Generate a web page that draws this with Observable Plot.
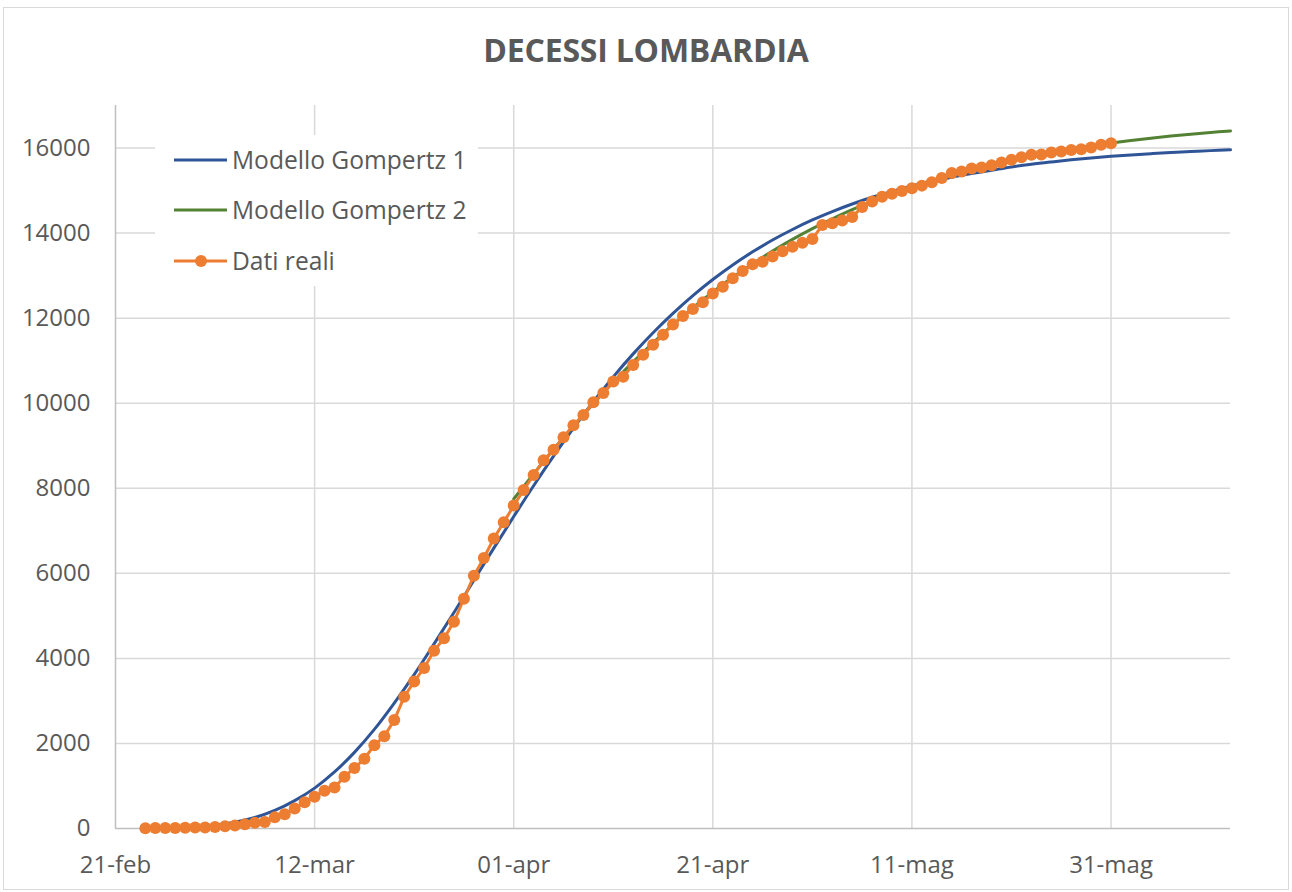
<!DOCTYPE html>
<html>
<head>
<meta charset="utf-8">
<script src="https://cdn.jsdelivr.net/npm/d3@7"></script>
<script src="https://cdn.jsdelivr.net/npm/@observablehq/plot@0.6"></script>
<style>
  body { margin: 0; background: #fff; }
  #wrap { position: relative; width: 1292px; height: 892px; overflow: hidden; font-family: "Open Sans", sans-serif; color: #595959; background: #fff; }
  #frame { position: absolute; left: 3px; top: 7px; width: 1286px; height: 883px; border: 1px solid #D9D9D9; box-sizing: border-box; }
  #title { position: absolute; left: 3px; width: 1286px; top: 34px; text-align: center; font-weight: bold; font-size: 32px; line-height: 1; letter-spacing: -0.2px; }
  #chart { position: absolute; left: 0; top: 0; }
  #legend { position: absolute; left: 155px; top: 135px; }
</style>
</head>
<body>
<div id="wrap">
  <div id="frame"></div>
  <div id="chart"></div>
  <div id="title">DECESSI LOMBARDIA</div>
  <div id="legend"></div>
</div>
<script>
// ---------- DATA ----------
const chartTitle = "DECESSI LOMBARDIA";
const seriesNames = ["Modello Gompertz 1", "Modello Gompertz 2", "Dati reali"];

// x-axis ticks and their labels
const tickDateStrings = ["2020-02-21", "2020-03-12", "2020-04-01", "2020-04-21", "2020-05-11", "2020-05-31"];
const tickLabels = ["21-feb", "12-mar", "01-apr", "21-apr", "11-mag", "31-mag"];
const yTicks = [0, 2000, 4000, 6000, 8000, 10000, 12000, 14000, 16000];
const xDomainStrings = ["2020-02-21", "2020-06-12"];
const yDomain = [0, 17000];

// Dati reali: daily cumulative deaths from 24-feb to 31-mag
const realStart = "2020-02-24";
const datiReali = [
  6, 9, 9, 14, 17, 23,
  24, 38, 55, 73, 98, 135, 154, 267, 333, 468,
  617, 744, 890, 966, 1218, 1420, 1640, 1959, 2168, 2549,
  3095, 3456, 3776, 4178, 4474, 4861, 5402, 5944, 6360, 6818, 7199,
  7593, 7960, 8311, 8656, 8905, 9202, 9484, 9722, 10022, 10238,
  10511, 10621, 10901, 11142, 11377, 11608, 11851, 12050, 12213, 12376,
  12579, 12740, 12940, 13106, 13269, 13325, 13449, 13575, 13679, 13772,
  13860, 14189, 14231, 14294, 14380, 14611, 14745, 14853, 14924, 14989,
  15054, 15116, 15196, 15296, 15411, 15449, 15519, 15543, 15597, 15662,
  15727, 15784, 15840, 15849, 15896, 15919, 15953, 15974, 16012, 16079, 16112
];

// Modello Gompertz 1: values read every 2 days from 25-feb to 12-giu
const g1Start = "2020-02-25";
const gompertz1 = [
  6, 16, 37, 77, 147,
  258, 424, 655, 950, 1330,
  1790, 2330, 2950, 3620, 4340,
  5080, 5838, 6592, 7335, 8059,
  8754, 9415, 10038, 10620, 11160,
  11657, 12113, 12530, 12909, 13251,
  13559, 13837, 14085, 14309, 14506,
  14684, 14842, 14981, 15106, 15217,
  15315, 15400, 15477, 15555, 15618,
  15672, 15722, 15764, 15804, 15838,
  15868, 15895, 15918, 15939, 15957
];

// Modello Gompertz 2: values read every 2 days from 01-apr to 12-giu
const g2Start = "2020-04-01";
const gompertz2 = [
  7748, 8338, 8911, 9462, 9990,
  10494, 10971, 11422, 11846, 12243,
  12614, 12960, 13280, 13576, 13851,
  14104, 14335, 14549, 14745, 14926,
  15090, 15241, 15378, 15504, 15618,
  15723, 15817, 15904, 15983, 16055,
  16118, 16179, 16232, 16281, 16325,
  16365, 16402
];

const colors = ["#2F5597", "#548235", "#ED7D31"];

// ---------- BUILD TABLES ----------
const parse = d3.utcParse("%Y-%m-%d");
const tickDates = tickDateStrings.map(parse);
const xDomain = xDomainStrings.map(parse);
const realData = datiReali.map((v, i) => ({date: d3.utcDay.offset(parse(realStart), i), value: v}));
const g1Data = gompertz1.map((v, i) => ({date: d3.utcDay.offset(parse(g1Start), 2 * i), value: v}));
const g2Data = gompertz2.map((v, i) => ({date: d3.utcDay.offset(parse(g2Start), 2 * i), value: v}));

const fmtTick = d => {
  const k = tickDates.findIndex(t => +t === +d);
  return k >= 0 ? tickLabels[k] : "";
};

const chart = Plot.plot({
  width: 1292,
  height: 892,
  marginLeft: 115,
  marginRight: 62,
  marginTop: 105,
  marginBottom: 64,
  x: {type: "utc", domain: xDomain, label: null},
  y: {domain: yDomain, label: null},
  style: {fontFamily: "'Open Sans', sans-serif", color: "#595959", background: "transparent", overflow: "visible"},
  marks: [
    Plot.ruleX(tickDates.slice(1), {stroke: "#D9D9D9", strokeWidth: 1.5}),
    Plot.ruleY(yTicks.slice(1), {stroke: "#D9D9D9", strokeWidth: 1.5}),
    Plot.ruleX([tickDates[0]], {stroke: "#BFBFBF", strokeWidth: 1.5}),
    Plot.ruleY([0], {stroke: "#BFBFBF", strokeWidth: 1.5}),
    Plot.axisY(yTicks, {label: null, tickSize: 0, tickPadding: 25, fontSize: 24, fill: "#595959", tickFormat: d => String(d)}),
    Plot.axisX(tickDates, {label: null, tickSize: 0, tickPadding: 27, fontSize: 24, fill: "#595959", tickFormat: fmtTick}),
    Plot.line(g1Data, {x: "date", y: "value", stroke: colors[0], strokeWidth: 3, curve: "catmull-rom"}),
    Plot.line(g2Data, {x: "date", y: "value", stroke: colors[1], strokeWidth: 3, curve: "catmull-rom"}),
    Plot.line(realData, {x: "date", y: "value", stroke: colors[2], strokeWidth: 3}),
    Plot.dot(realData, {x: "date", y: "value", r: 6, fill: colors[2], stroke: "none"})
  ]
});
document.getElementById("chart").appendChild(chart);
document.getElementById("title").textContent = chartTitle;

// ---------- LEGEND ----------
const ns = "http://www.w3.org/2000/svg";
const lg = document.createElementNS(ns, "svg");
lg.setAttribute("width", 323);
lg.setAttribute("height", 151);
lg.innerHTML = `<rect x="0" y="0" width="323" height="151" fill="#fff"/>`;
const rowY = [25, 75, 126];
seriesNames.forEach((name, i) => {
  const g = document.createElementNS(ns, "g");
  g.innerHTML =
    `<line x1="19" x2="72" y1="${rowY[i]}" y2="${rowY[i]}" stroke="${colors[i]}" stroke-width="3"/>` +
    (i === 2 ? `<circle cx="46" cy="${rowY[i]}" r="6" fill="${colors[i]}"/>` : "") +
    `<text x="77" y="${rowY[i]}" dy="0.35em" font-family="'Open Sans', sans-serif" font-size="24.6" fill="#595959"></text>`;
  g.querySelector("text").textContent = name;
  lg.appendChild(g);
});
document.getElementById("legend").appendChild(lg);
</script>
</body>
</html>
